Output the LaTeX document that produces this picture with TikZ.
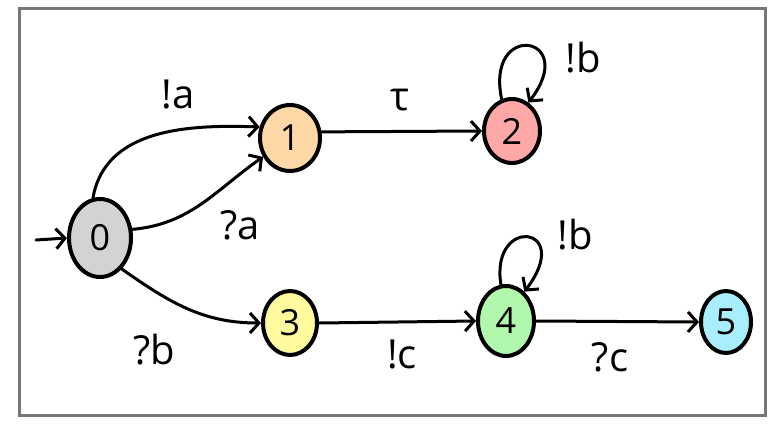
\documentclass[tikz,border=0pt]{standalone}
\usepackage{fontspec}
\setmainfont{Open Sans}
\usetikzlibrary{shapes.geometric,arrows.meta}
\definecolor{c0}{HTML}{D3D3D3}
\definecolor{c1}{HTML}{FFD8A8}
\definecolor{c2}{HTML}{FFA8A8}
\definecolor{c3}{HTML}{FFFB9E}
\definecolor{c4}{HTML}{B2F8AC}
\definecolor{c5}{HTML}{A8EEFC}
\definecolor{frame}{HTML}{777777}
\begin{document}
\begin{tikzpicture}[x=1pt,y=-1pt,
  st/.style={ellipse,draw=black,line width=4pt,inner sep=0pt,font=\fontsize{36}{36}\selectfont},
  edge/.style={line width=3pt,line cap=round,-{Straight Barb[length=9pt,width=20pt]}},
  lbl/.style={inner sep=0pt,font=\fontsize{40}{40}\selectfont}]
\useasboundingbox (0,0) rectangle (768,423);
\fill[white] (0,0) rectangle (768,423);
\draw[frame,line width=3pt] (19,8) rectangle (765,415);
% states
\node[st,fill=c0,minimum width=62pt,minimum height=78pt] (n0) at (100,238) {0};
\node[st,fill=c1,minimum width=60pt,minimum height=66pt] (n1) at (290,138) {1};
\node[st,fill=c2,minimum width=56pt,minimum height=64pt] (n2) at (512,131) {2};
\node[st,fill=c3,minimum width=54pt,minimum height=64pt] (n3) at (290,323) {3};
\node[st,fill=c4,minimum width=56pt,minimum height=70pt] (n4) at (506,321) {4};
\node[st,fill=c5,minimum width=50pt,minimum height=62pt] (n5) at (726,322) {5};
\coordinate (init) at (36,240);
% edges
\draw[edge] (init) -- (n0.west);
\draw[edge] (n0.100) to[out=80,in=178] (n1.160);
\draw[edge] (n0.15) to[out=5,in=215] (n1.215);
\draw[edge] (n0.-55) to[out=-35,in=180] (n3.west);
\draw[edge] (n1.11) -- (n2.west);
\draw[edge] (n3.east) -- (n4.west);
\draw[edge] (n4.east) -- (n5.west);
\draw[edge] (n2.108) .. controls (485,20) and (580,35) .. (n2.60);
\draw[edge] (n4.98) .. controls (490,215) and (575,225) .. (n4.58);
% labels
\node[lbl] (la) at (178,95) {!a};
\node[lbl] (lqa) at (240,225) {?a};
\node[lbl] (lqb) at (154,350) {?b};
\node[lbl] (lt) at (400,100) {τ};
\node[lbl] (lb2) at (583,58) {!b};
\node[lbl] (lb4) at (575,235) {!b};
\node[lbl] (lc) at (402,355) {!c};
\node[lbl] (lqc) at (610,357) {?c};
\end{tikzpicture}
\end{document}
